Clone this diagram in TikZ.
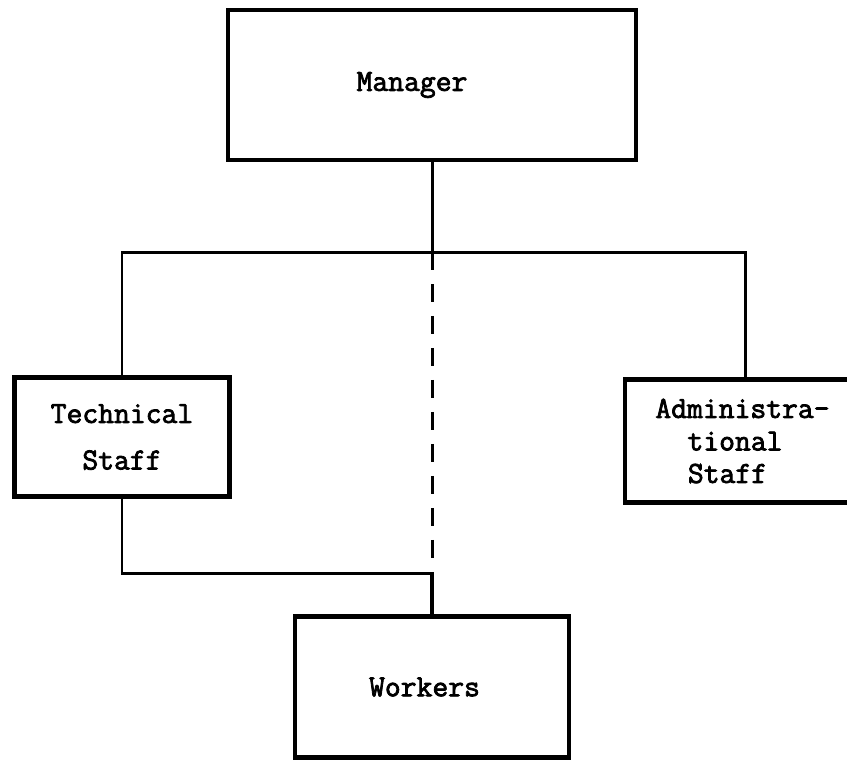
\documentclass[tikz,border=0pt]{standalone}
\usepackage{fontspec}
\newfontfamily\boxfont[FakeBold=2.5]{Latin Modern Mono}
\usepackage{tikz}

\begin{document}
\begin{tikzpicture}[x=0.02cm, y=-0.02cm,
    unit/.style={rectangle, draw, line width=2.4pt, align=center,
      font=\boxfont\fontsize{17.5}{18.5}\selectfont},
    link/.style={line width=1.7pt}]

\useasboundingbox (0,0) rectangle (847,765);

 \node[unit, minimum width = 8.16cm, minimum height = 3.0cm] (manager) at (432,85)
    {\hspace*{-0.8cm}Manager};

 \node[unit, minimum width = 4.3cm, minimum height = 2.38cm] (tech) at (122,437)
    {Technical\\[8pt]Staff};

 \node[unit, minimum width = 4.8cm, minimum height = 2.46cm] (admin) at (745,441)
    {\hspace*{-0.1cm}Administra-\\\hspace*{-0.4cm}tional\\\hspace*{-0.7cm}Staff};

 \node[unit, minimum width = 5.48cm, minimum height = 2.82cm] (workers) at (432,687)
    {\hspace*{-0.3cm}Workers};

\coordinate (split) at (432,252);
\coordinate (merge) at (432,573);

\draw [link] (manager.south) -- (split);
\draw [link] (tech.north) |- (split) -| (admin.north);
\draw [link, dash pattern=on 0.36cm off 0.28cm] (split) -- (merge);
\draw [link] (tech.south) |- (merge);
\draw [link, line width=2.4pt] (merge) -- (workers.north);

\end{tikzpicture}
\end{document}
